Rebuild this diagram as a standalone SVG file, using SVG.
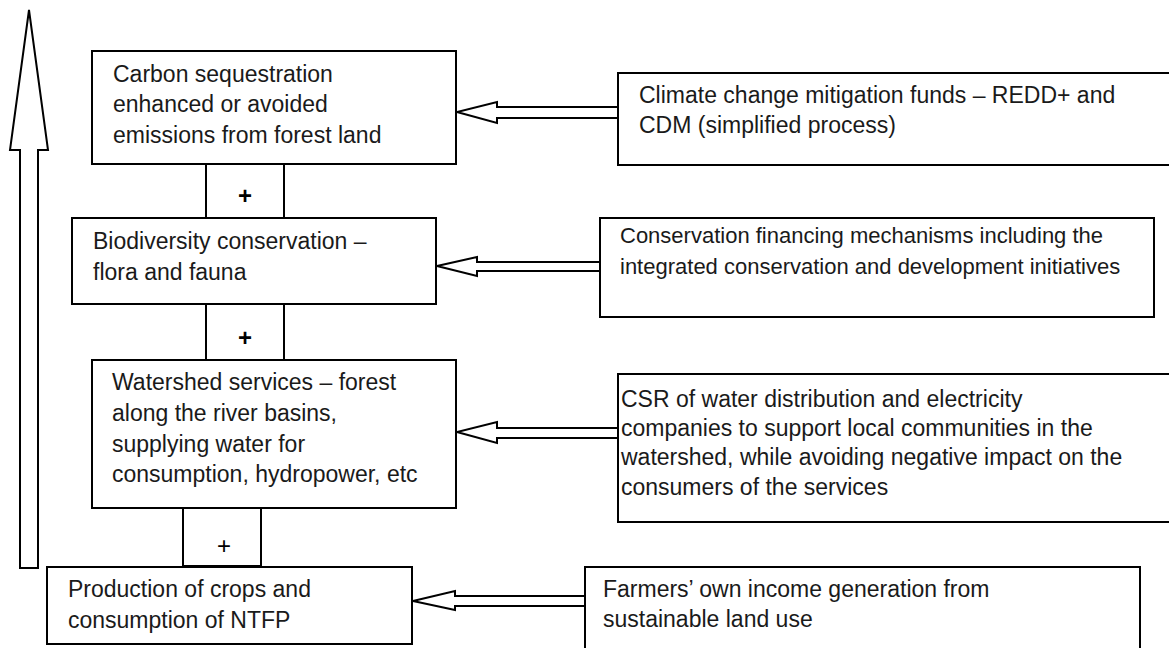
<svg xmlns="http://www.w3.org/2000/svg" width="1169" height="648" viewBox="0 0 1169 648">
<style>
.box{fill:#fff;stroke:#000;stroke-width:2}
.arr{fill:#fff;stroke:#000;stroke-width:2;stroke-linejoin:miter}
.t{font-family:"Liberation Sans",Arial,sans-serif;font-size:23px;fill:#1a1a1a}
.p{font-family:"Liberation Sans",Arial,sans-serif;font-size:24px;font-weight:bold;fill:#000;text-anchor:middle}
</style>
<rect width="1169" height="648" fill="#fff"/>
<g id="connectors">
<polygon class="arr" points="29,10 48,150 38,150 38,568 20,568 20,150 10,150"/>
<path class="arr" d="M618,107 L497,107 L497,102 L457,112 L497,123 L497,118 L618,118"/>
<path class="arr" d="M600,262 L477,262 L477,257 L437,266 L477,276 L477,271 L600,271"/>
<path class="arr" d="M618,428 L497,428 L497,422 L457,432 L497,443 L497,438 L618,438"/>
<path class="arr" d="M585,596 L455,596 L455,591 L413,601 L455,610 L455,606 L585,606"/>
</g>
<g id="plus1"><rect class="box" x="206" y="164" width="78" height="54"/><text class="p" x="245" y="204">+</text></g>
<g id="plus2"><rect class="box" x="206" y="304" width="78" height="56"/><text class="p" x="245" y="346">+</text></g>
<g id="plus3"><rect class="box" x="183" y="508" width="78" height="58"/><text class="p" x="224" y="554" style="font-weight:normal">+</text></g>
<g id="carbon"><rect class="box" x="92" y="51" width="364" height="113"/>
<text class="t" x="113" y="82">Carbon sequestration</text>
<text class="t" x="113" y="112">enhanced or avoided</text>
<text class="t" x="113" y="143">emissions from forest land</text></g>
<g id="biodiversity"><rect class="box" x="72" y="218" width="364" height="86"/>
<text class="t" x="93" y="249">Biodiversity conservation –</text>
<text class="t" x="93" y="280">flora and fauna</text></g>
<g id="watershed"><rect class="box" x="92" y="360" width="364" height="148"/>
<text class="t" x="112" y="390">Watershed services – forest</text>
<text class="t" x="112" y="421">along the river basins,</text>
<text class="t" x="112" y="452">supplying water for</text>
<text class="t" x="112" y="482">consumption, hydropower, etc</text></g>
<g id="production"><rect class="box" x="47" y="567" width="365" height="77"/>
<text class="t" x="68" y="597">Production of crops and</text>
<text class="t" x="68" y="628">consumption of NTFP</text></g>
<g id="climate"><rect class="box" x="618" y="73" width="570" height="92"/>
<text class="t" x="639" y="103">Climate change mitigation funds – REDD+ and</text>
<text class="t" x="639" y="133">CDM (simplified process)</text></g>
<g id="conservation"><rect class="box" x="600" y="218" width="554" height="99"/>
<text class="t" x="620" y="243" style="font-size:22px">Conservation financing mechanisms including the</text>
<text class="t" x="620" y="274" style="font-size:22px">integrated conservation and development initiatives</text></g>
<g id="csr"><rect class="box" x="618" y="374" width="570" height="148"/>
<text class="t" x="621" y="407">CSR of water distribution and electricity</text>
<text class="t" x="621" y="436">companies to support local communities in the</text>
<text class="t" x="621" y="465">watershed, while avoiding negative impact on the</text>
<text class="t" x="621" y="495">consumers of the services</text></g>
<g id="farmers"><rect class="box" x="585" y="567" width="555" height="100"/>
<text class="t" x="603" y="597">Farmers’ own income generation from</text>
<text class="t" x="603" y="627">sustainable land use</text></g>
</svg>
